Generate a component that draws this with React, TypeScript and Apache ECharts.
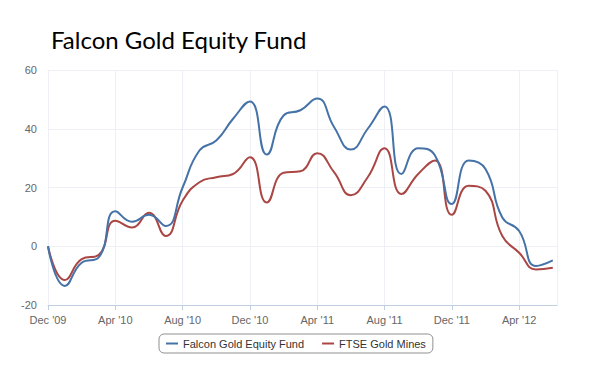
import React, { useEffect, useRef } from "react";
import * as echarts from "echarts";

const months = [
  "Dec '09", "Jan '10", "Feb '10", "Mar '10", "Apr '10", "May '10", "Jun '10", "Jul '10",
  "Aug '10", "Sep '10", "Oct '10", "Nov '10", "Dec '10", "Jan '11", "Feb '11", "Mar '11",
  "Apr '11", "May '11", "Jun '11", "Jul '11", "Aug '11", "Sep '11", "Oct '11", "Nov '11",
  "Dec '11", "Jan '12", "Feb '12", "Mar '12", "Apr '12", "May '12", "Jun '12",
];

const falconFund = [
  0, -13.5, -5.6, -3.9, 11.9, 8.3, 10.7, 6.9, 20, 32.6, 36, 43.4, 49.3, 31.2, 44.5, 46.3,
  50.3, 40.6, 32.9, 40, 47.6, 24.6, 33.4, 30.9, 14.4, 29.2, 26.3, 9.8, 5.2, -6.7, -4.8,
];

const ftseGoldMines = [
  0, -11.5, -4.4, -3, 8.7, 6.4, 11.4, 3.5, 15.5, 21.8, 23.5, 24.6, 30.3, 14.9, 25, 25.5,
  31.7, 25.2, 17.4, 23.5, 33.4, 17.8, 24.6, 29.2, 10.7, 20.6, 18.9, 3.5, -2.2, -7.9, -7.3,
];

const yTicks = { min: -20, max: 60, interval: 20 };

export default function App() {
  const ref = useRef<HTMLDivElement>(null);
  useEffect(() => {
    if (!ref.current) return;
    document.body.style.margin = "0";
    const chart = echarts.init(ref.current, undefined, { renderer: "svg" });
    const toPairs = (arr: number[]) => arr.map((v, i) => [i, v]);
    chart.setOption({
      animation: false,
      backgroundColor: "#ffffff",
      title: {
        text: "Falcon Gold Equity Fund",
        left: 46,
        top: 22,
        textStyle: {
          fontFamily: "Lato",
          fontSize: 24,
          fontWeight: "normal",
          color: "#000000",
        },
      },
      grid: { left: 48, right: 43, top: 70, bottom: 71 },
      xAxis: {
        type: "value",
        min: 0,
        max: 30.25,
        interval: 4,
        axisLine: { show: true, onZero: false, lineStyle: { color: "#C0D0E0", width: 1 } },
        axisTick: { show: true, length: 5, lineStyle: { color: "#C0D0E0" } },
        splitLine: { show: true, lineStyle: { color: "#EEF0F5", width: 1 } },
        axisLabel: {
          color: "#666666",
          fontSize: 11,
          fontFamily: "Liberation Sans, Arial, sans-serif",
          margin: 9,
          showMaxLabel: false,
          formatter: (v: number) => months[Math.round(v)] ?? "",
        },
      },
      yAxis: {
        type: "value",
        min: yTicks.min,
        max: yTicks.max,
        interval: yTicks.interval,
        axisLine: { show: false },
        axisTick: { show: false },
        splitLine: { show: true, lineStyle: { color: "#EEF0F5", width: 1 } },
        axisLabel: {
          color: "#666666",
          fontSize: 11,
          fontFamily: "Liberation Sans, Arial, sans-serif",
          margin: 11,
        },
      },
      legend: {
        left: 159,
        top: 334,
        icon: "rect",
        itemWidth: 12,
        itemHeight: 2,
        itemGap: 18,
        padding: [4, 7, 4, 7],
        borderColor: "#909090",
        borderWidth: 1,
        borderRadius: 5,
        textStyle: {
          color: "#333333",
          fontSize: 11,
          fontFamily: "Liberation Sans, Arial, sans-serif",
        },
        data: ["Falcon Gold Equity Fund", "FTSE Gold Mines"],
      },
      series: [
        {
          name: "Falcon Gold Equity Fund",
          type: "line",
          data: toPairs(falconFund),
          smooth: 0.5,
          symbol: "none",
          color: "#4572A7",
          lineStyle: { color: "#4572A7", width: 2 },
          z: 3,
        },
        {
          name: "FTSE Gold Mines",
          type: "line",
          data: toPairs(ftseGoldMines),
          smooth: 0.5,
          symbol: "none",
          color: "#AA4643",
          lineStyle: { color: "#AA4643", width: 2 },
          z: 2,
        },
      ],
    });
    return () => chart.dispose();
  }, []);
  return <div ref={ref} style={{ width: 600, height: 376 }} />;
}
